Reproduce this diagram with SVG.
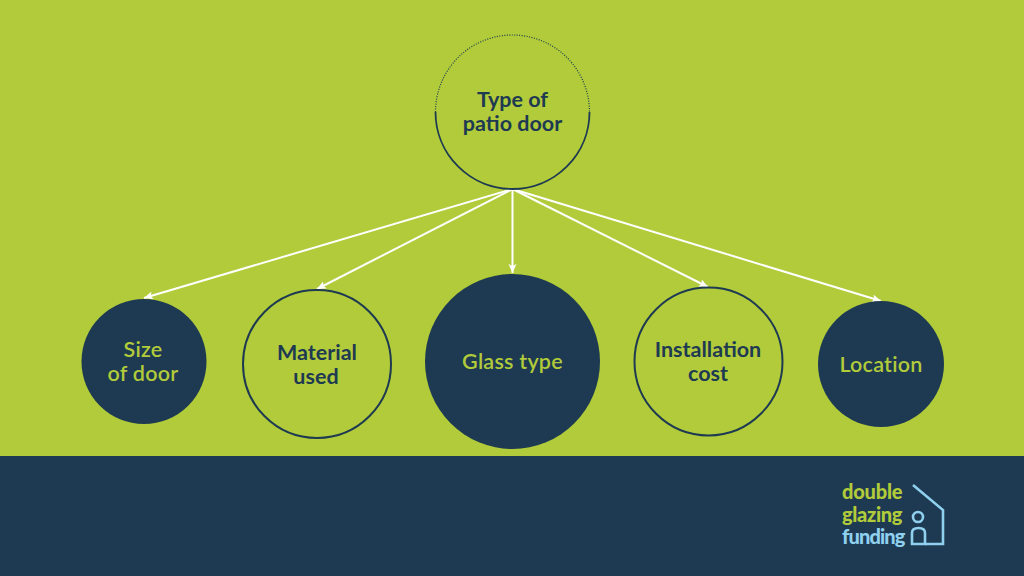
<svg xmlns="http://www.w3.org/2000/svg" width="1024" height="576" viewBox="0 0 1024 576">
<defs>
<style>
text{font-family:"Lato","Open Sans",sans-serif;font-size:21.500px;text-anchor:middle}
.dark{fill:#1e3a52;font-weight:700}
.lime{fill:#b1cb3a;font-weight:600;letter-spacing:.25px}
.solid{fill:#1e3a52}
.ring{fill:none;stroke:#1e3a52;stroke-width:2}
.conn{stroke:#fff;stroke-width:2;fill:none;marker-end:url(#arrow)}
.logo{font-size:20px;font-weight:900;text-anchor:start;letter-spacing:-.5px}
.mark{fill:none;stroke:#8fd0ee;stroke-width:2.600}
</style>
<marker id="arrow" markerUnits="userSpaceOnUse" markerWidth="10" markerHeight="10" refX="9" refY="4" orient="auto">
<path d="M0 0L9 4L0 8L2 4Z" fill="#fff"/>
</marker>
</defs>
<rect width="1024" height="576" fill="#b1cb3a"/>
<rect y="456" width="1024" height="120" fill="#1e3a52"/>
<g id="connectors">
<path class="conn" d="M512.500 189L144 298"/>
<path class="conn" d="M512.500 189L317 289"/>
<path class="conn" d="M512.500 189V273"/>
<path class="conn" d="M512.500 189L708 287"/>
<path class="conn" d="M512.500 189L881 301"/>
</g>
<g id="node-type">
<path d="M435.500 112A77 77 0 0 1 589.500 112" fill="none" stroke="#1e3a52" stroke-width="1.200" stroke-dasharray="1 1.500"/>
<path d="M435.500 112A77 77 0 0 0 589.500 112" fill="none" stroke="#1e3a52" stroke-width="1.800"/>
<text class="dark" x="512.500" y="107">Type of</text>
<text class="dark" x="512.500" y="131">patio door</text>
</g>
<g id="node-size">
<circle class="solid" cx="144" cy="361.500" r="62.500"/>
<text class="lime" x="143" y="357">Size</text>
<text class="lime" x="143" y="381">of door</text>
</g>
<g id="node-material">
<circle class="ring" cx="317" cy="364" r="74"/>
<text class="dark" x="317" y="360">Material</text>
<text class="dark" x="316" y="384">used</text>
</g>
<g id="node-glass">
<circle class="solid" cx="512.500" cy="361.500" r="87.500"/>
<text class="lime" x="512.500" y="369">Glass type</text>
</g>
<g id="node-installation">
<circle class="ring" cx="708.500" cy="361.500" r="74"/>
<text class="dark" x="708" y="357">Installation</text>
<text class="dark" x="708" y="381">cost</text>
</g>
<g id="node-location">
<circle class="solid" cx="881" cy="364" r="63"/>
<text class="lime" x="881" y="372">Location</text>
</g>
<g id="logo">
<text class="logo" x="842" y="499" textLength="60" fill="#b1cb3a">double</text>
<text class="logo" x="842" y="522" textLength="60" fill="#b1cb3a">glazing</text>
<text class="logo" x="842" y="544" textLength="63" fill="#8fd0ee">funding</text>
<path class="mark" d="M913 485L943 510V544H925"/>
<circle class="mark" cx="918" cy="517" r="5"/>
<path class="mark" d="M912 544V533Q912 528 918.500 528Q925 528 925 533V544Z"/>
</g>
</svg>
